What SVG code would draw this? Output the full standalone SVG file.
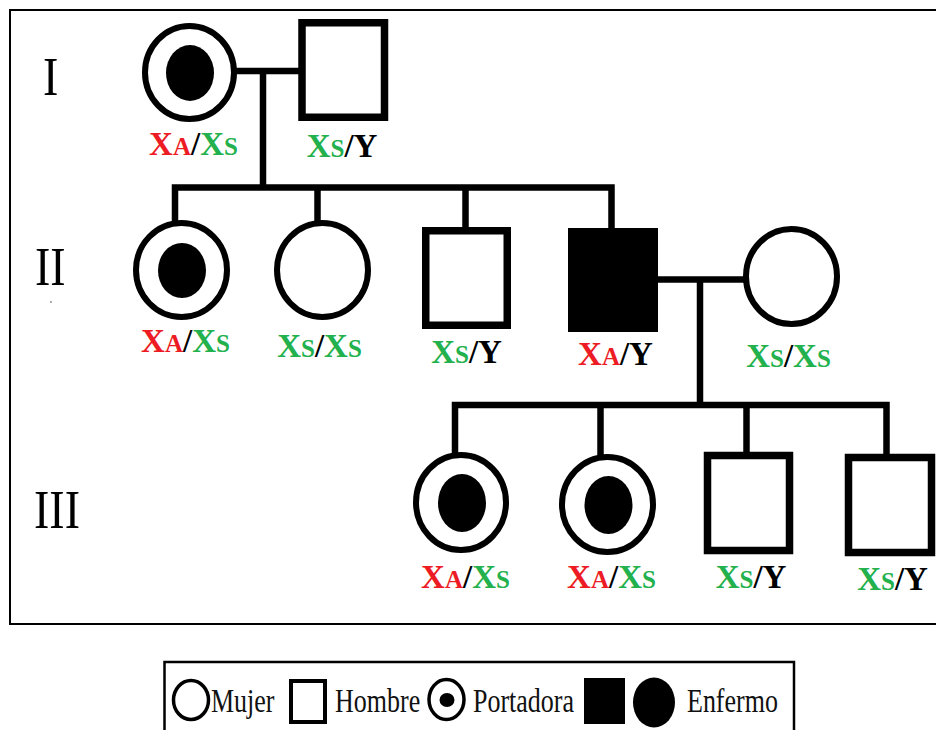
<svg xmlns="http://www.w3.org/2000/svg" width="936" height="730" viewBox="0 0 936 730">
  <style>
    .ln { fill: none; stroke: #000; stroke-width: 6.5; stroke-linejoin: miter; stroke-linecap: butt; }
    .fem { fill: #fff; stroke: #000; stroke-width: 6; }
    .male { fill: #fff; stroke: #000; stroke-width: 7.5; }
    .solid { fill: #000; }
    .gt { font-family: 'Liberation Serif', Tinos, 'DejaVu Serif', serif; font-weight: bold; font-size: 33px; text-anchor: middle; }
    .sm { font-size: 25px; }
    .r { fill: #ED1C24; }
    .g { fill: #22B14C; }
    .k { fill: #000; }
    .gen { font-family: 'Liberation Serif', Tinos, 'DejaVu Serif', serif; font-size: 46px; fill: #000; }
    .leg { font-family: 'Liberation Serif', Tinos, 'DejaVu Serif', serif; font-size: 26px; fill: #111; }
  </style>

  <rect x="0" y="0" width="936" height="730" fill="#fff"/>

  <!-- outer frame (right edge runs off the canvas) -->
  <rect x="10" y="10" width="940" height="614" fill="none" stroke="#000" stroke-width="2"/>

  <!-- generation numerals -->
  <g id="generations">
    <text class="gen" font-family="Liberation Serif, serif" transform="translate(43,95) scale(1,1.2)">I</text>
    <text class="gen" font-family="Liberation Serif, serif" transform="translate(35,285) scale(1,1.2)">II</text>
    <text class="gen" font-family="Liberation Serif, serif" transform="translate(34,528) scale(1,1.2)">III</text>
    <circle cx="51" cy="302" r="0.8" fill="#444"/>
  </g>

  <!-- connectors -->
  <g id="connectors">
    <!-- generation I couple and descent -->
    <path class="ln" d="M236 71 H300"/>
    <path class="ln" d="M263 71 V187.5"/>
    <!-- generation II sibship -->
    <path class="ln" d="M175 224 V187.5 H611.5 V230"/>
    <path class="ln" d="M317.5 187.5 V224"/>
    <path class="ln" d="M465.5 187.5 V231"/>
    <!-- generation II couple and descent -->
    <path class="ln" d="M656 279.5 H746"/>
    <path class="ln" d="M700 279.5 V405"/>
    <!-- generation III sibship -->
    <path class="ln" d="M455 455 V405 H886.5 V458"/>
    <path class="ln" d="M600.5 405 V457"/>
    <path class="ln" d="M746.5 405 V456"/>
  </g>

  <!-- generation I -->
  <g id="I-1">
    <ellipse class="fem" cx="189.5" cy="72.5" rx="44.5" ry="46.5"/>
    <ellipse class="solid" cx="190" cy="73" rx="24" ry="28"/>
    <text class="gt" x="193.5" y="155"><tspan class="r">X<tspan class="sm">A</tspan></tspan><tspan class="k">/</tspan><tspan class="g">X<tspan class="sm">S</tspan></tspan></text>
  </g>
  <g id="I-2">
    <rect class="male" x="302" y="22.75" width="82.5" height="94.5"/>
    <text class="gt" x="342" y="157"><tspan class="g">X<tspan class="sm">S</tspan></tspan><tspan class="k">/Y</tspan></text>
  </g>

  <!-- generation II -->
  <g id="II-1">
    <ellipse class="fem" cx="181.5" cy="270" rx="45.5" ry="47"/>
    <ellipse class="solid" cx="182" cy="270.5" rx="24" ry="27.5"/>
    <text class="gt" x="185.5" y="352"><tspan class="r">X<tspan class="sm">A</tspan></tspan><tspan class="k">/</tspan><tspan class="g">X<tspan class="sm">S</tspan></tspan></text>
  </g>
  <g id="II-2">
    <ellipse class="fem" cx="322.5" cy="270" rx="45.5" ry="47"/>
    <text class="gt" x="319.5" y="357"><tspan class="g">X<tspan class="sm">S</tspan></tspan><tspan class="k">/</tspan><tspan class="g">X<tspan class="sm">S</tspan></tspan></text>
  </g>
  <g id="II-3">
    <rect class="male" x="425.75" y="230.75" width="81.5" height="94.5"/>
    <text class="gt" x="466.5" y="363"><tspan class="g">X<tspan class="sm">S</tspan></tspan><tspan class="k">/Y</tspan></text>
  </g>
  <g id="II-4">
    <rect class="solid" x="568" y="228" width="90" height="104"/>
    <text class="gt" x="615.5" y="365"><tspan class="r">X<tspan class="sm">A</tspan></tspan><tspan class="k">/Y</tspan></text>
  </g>
  <g id="II-5">
    <ellipse class="fem" cx="791.5" cy="276.5" rx="45.5" ry="47.5"/>
    <text class="gt" x="788.5" y="367"><tspan class="g">X<tspan class="sm">S</tspan></tspan><tspan class="k">/</tspan><tspan class="g">X<tspan class="sm">S</tspan></tspan></text>
  </g>

  <!-- generation III -->
  <g id="III-1">
    <ellipse class="fem" cx="461" cy="502.5" rx="45" ry="47.5"/>
    <ellipse class="solid" cx="462" cy="503" rx="24" ry="29"/>
    <text class="gt" x="465.5" y="588"><tspan class="r">X<tspan class="sm">A</tspan></tspan><tspan class="k">/</tspan><tspan class="g">X<tspan class="sm">S</tspan></tspan></text>
  </g>
  <g id="III-2">
    <ellipse class="fem" cx="607.5" cy="504.5" rx="45.5" ry="47.5"/>
    <ellipse class="solid" cx="608.5" cy="505" rx="24" ry="29"/>
    <text class="gt" x="611.5" y="588"><tspan class="r">X<tspan class="sm">A</tspan></tspan><tspan class="k">/</tspan><tspan class="g">X<tspan class="sm">S</tspan></tspan></text>
  </g>
  <g id="III-3">
    <rect class="male" x="707.5" y="455.5" width="82" height="95"/>
    <text class="gt" x="751" y="588"><tspan class="g">X<tspan class="sm">S</tspan></tspan><tspan class="k">/Y</tspan></text>
  </g>
  <g id="III-4">
    <rect class="male" x="848.5" y="457.5" width="83" height="95"/>
    <text class="gt" x="892.5" y="590"><tspan class="g">X<tspan class="sm">S</tspan></tspan><tspan class="k">/Y</tspan></text>
  </g>

  <!-- legend -->
  <g id="legend">
    <rect x="164.5" y="662" width="629.5" height="90" fill="#fff" stroke="#000" stroke-width="2.5"/>
    <ellipse cx="191" cy="700" rx="17.5" ry="19.5" fill="#fff" stroke="#000" stroke-width="3.5"/>
    <text class="leg" transform="translate(211,712) scale(1,1.3)">Mujer</text>
    <rect x="291" y="681" width="34" height="41" fill="#fff" stroke="#000" stroke-width="4"/>
    <text class="leg" transform="translate(335,712) scale(1,1.3)">Hombre</text>
    <ellipse cx="446.5" cy="699.5" rx="17.5" ry="20" fill="#fff" stroke="#000" stroke-width="3.5"/>
    <ellipse cx="447" cy="700" rx="7.5" ry="7" fill="#000"/>
    <text class="leg" transform="translate(473,712) scale(1,1.3)">Portadora</text>
    <rect x="584" y="678" width="41" height="46" fill="#000"/>
    <ellipse cx="654" cy="702.5" rx="21" ry="25" fill="#000"/>
    <text class="leg" transform="translate(687,712) scale(1,1.3)">Enfermo</text>
  </g>
</svg>
